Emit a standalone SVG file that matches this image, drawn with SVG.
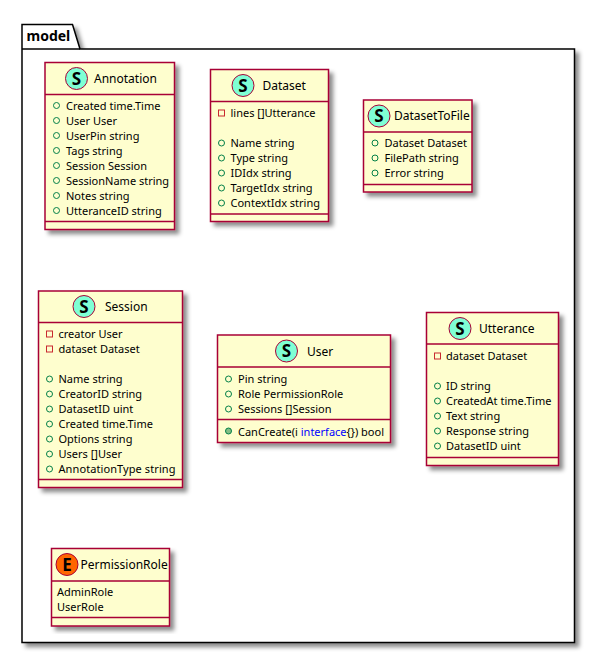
<svg xmlns="http://www.w3.org/2000/svg" width="595" height="653" viewBox="0 0 595 653">
<style>
text{font-family:"Noto Sans","DejaVu Sans",sans-serif;font-size:11px;fill:#000}
.t{font-size:12px}
.pkg{font-size:14px;font-weight:bold}
.b{fill:#FEFECE;stroke:#A80036;stroke-width:1.5}
.l{stroke:#A80036;stroke-width:1.5;fill:none}
.p{fill:#fff;stroke:#000;stroke-width:1.5}
.c{fill:#7FFFD4;stroke:#A80036;stroke-width:1}
.e{fill:#FF6600;stroke:#A80036;stroke-width:1}
.g{font-size:17px;font-weight:bold;text-anchor:middle}
.o{fill:none;stroke:#038048;stroke-width:1}
.m{fill:#84BE84;stroke:#038048;stroke-width:1}
.s{fill:none;stroke:#C82930;stroke-width:1}
</style>
<defs>
<filter id="sh" x="-10%" y="-10%" width="120%" height="120%"><feDropShadow dx="4" dy="4" stdDeviation="2" flood-color="#000" flood-opacity="0.45"/></filter>
</defs>
<g id="model">
<path class="p" filter="url(#sh)" d="M22 49V24.5H72.5L80 49H574.5V642.5H22Z"/>
<path class="l" style="stroke:#000" d="M22 49H80"/>
<text class="pkg" x="26.5" y="41">model</text>
</g>
<g id="connectors"></g>
<g id="Annotation">
<rect class="b" filter="url(#sh)" x="45" y="62.5" width="129.5" height="167"/>
<path class="l" d="M45 94.5H174.5M45 221.5H174.5"/>
<circle class="c" cx="76.5" cy="78.5" r="11"/><text class="g" x="76.5" y="84.5">S</text>
<text class="t" x="94" y="83">Annotation</text>
<circle class="o" cx="56.5" cy="105.5" r="3"/><text x="66" y="110">Created time.Time</text>
<circle class="o" cx="56.5" cy="120.5" r="3"/><text x="66" y="125">User User</text>
<circle class="o" cx="56.5" cy="135.5" r="3"/><text x="66" y="140">UserPin string</text>
<circle class="o" cx="56.5" cy="150.5" r="3"/><text x="66" y="155">Tags string</text>
<circle class="o" cx="56.5" cy="165.5" r="3"/><text x="66" y="170">Session Session</text>
<circle class="o" cx="56.5" cy="180.5" r="3"/><text x="66" y="185">SessionName string</text>
<circle class="o" cx="56.5" cy="195.5" r="3"/><text x="66" y="200">Notes string</text>
<circle class="o" cx="56.5" cy="210.5" r="3"/><text x="66" y="215">UtteranceID string</text>
</g>
<g id="Dataset">
<rect class="b" filter="url(#sh)" x="210.5" y="69.5" width="118" height="152"/>
<path class="l" d="M210.5 101.5H328.5M210.5 214H328.5"/>
<circle class="c" cx="243" cy="85.5" r="11"/><text class="g" x="243" y="91.5">S</text>
<text class="t" x="262.5" y="90">Dataset</text>
<rect class="s" x="218.5" y="110" width="6" height="6"/><text x="230.5" y="117">lines []Utterance</text>
<circle class="o" cx="221.5" cy="143" r="3"/><text x="230.5" y="147">Name string</text>
<circle class="o" cx="221.5" cy="158" r="3"/><text x="230.5" y="162">Type string</text>
<circle class="o" cx="221.5" cy="173" r="3"/><text x="230.5" y="177">IDIdx string</text>
<circle class="o" cx="221.5" cy="188" r="3"/><text x="230.5" y="192">TargetIdx string</text>
<circle class="o" cx="221.5" cy="203" r="3"/><text x="230.5" y="207">ContextIdx string</text>
</g>
<g id="DatasetToFile">
<rect class="b" filter="url(#sh)" x="363.5" y="100" width="108.5" height="92"/>
<path class="l" d="M363.5 132H472M363.5 184.5H472"/>
<circle class="c" cx="379" cy="116" r="11"/><text class="g" x="379" y="122">S</text>
<text class="t" x="394" y="120">DatasetToFile</text>
<circle class="o" cx="375" cy="143" r="3"/><text x="384.5" y="147">Dataset Dataset</text>
<circle class="o" cx="375" cy="158" r="3"/><text x="384.5" y="162">FilePath string</text>
<circle class="o" cx="375" cy="173" r="3"/><text x="384.5" y="177">Error string</text>
</g>
<g id="Session">
<rect class="b" filter="url(#sh)" x="38.5" y="291" width="144" height="196.5"/>
<path class="l" d="M38.5 322.5H182.5M38.5 479.5H182.5"/>
<circle class="c" cx="84" cy="306.5" r="11"/><text class="g" x="84" y="312.5">S</text>
<text class="t" x="105" y="311">Session</text>
<rect class="s" x="46.5" y="331" width="6" height="6"/><text x="58.5" y="338">creator User</text>
<rect class="s" x="46.5" y="346" width="6" height="6"/><text x="58.5" y="353">dataset Dataset</text>
<circle class="o" cx="49.5" cy="379" r="3"/><text x="58.5" y="383">Name string</text>
<circle class="o" cx="49.5" cy="394" r="3"/><text x="58.5" y="398">CreatorID string</text>
<circle class="o" cx="49.5" cy="409" r="3"/><text x="58.5" y="413">DatasetID uint</text>
<circle class="o" cx="49.5" cy="424" r="3"/><text x="58.5" y="428">Created time.Time</text>
<circle class="o" cx="49.5" cy="439" r="3"/><text x="58.5" y="443">Options string</text>
<circle class="o" cx="49.5" cy="454" r="3"/><text x="58.5" y="458">Users []User</text>
<circle class="o" cx="49.5" cy="469" r="3"/><text x="58.5" y="473" textLength="117">AnnotationType string</text>
</g>
<g id="User">
<rect class="b" filter="url(#sh)" x="217.5" y="335" width="173" height="107.5"/>
<path class="l" d="M217.5 367H390.5M217.5 419.5H390.5"/>
<circle class="c" cx="286.5" cy="351" r="11"/><text class="g" x="286.5" y="357">S</text>
<text class="t" x="307" y="356">User</text>
<circle class="o" cx="228.5" cy="379" r="3"/><text x="238" y="383">Pin string</text>
<circle class="o" cx="228.5" cy="394" r="3"/><text x="238" y="398">Role PermissionRole</text>
<circle class="o" cx="228.5" cy="409" r="3"/><text x="238" y="413">Sessions []Session</text>
<circle class="m" cx="228.5" cy="431" r="3"/><text x="238" y="436">CanCreate(i <tspan style="fill:#0000FF">interface</tspan>{}) bool</text>
</g>
<g id="Utterance">
<rect class="b" filter="url(#sh)" x="426.5" y="312.5" width="132" height="153"/>
<path class="l" d="M426.5 344H558.5M426.5 457.5H558.5"/>
<circle class="c" cx="460" cy="328.5" r="11"/><text class="g" x="460" y="334.5">S</text>
<text class="t" x="479" y="333">Utterance</text>
<rect class="s" x="434.5" y="353" width="6" height="6"/><text x="446" y="360">dataset Dataset</text>
<circle class="o" cx="437.5" cy="386" r="3"/><text x="446" y="390">ID string</text>
<circle class="o" cx="437.5" cy="401" r="3"/><text x="446" y="405">CreatedAt time.Time</text>
<circle class="o" cx="437.5" cy="416" r="3"/><text x="446" y="420">Text string</text>
<circle class="o" cx="437.5" cy="431" r="3"/><text x="446" y="435">Response string</text>
<circle class="o" cx="437.5" cy="446" r="3"/><text x="446" y="450">DatasetID uint</text>
</g>
<g id="PermissionRole">
<rect class="b" filter="url(#sh)" x="51.5" y="548.5" width="118" height="77.5"/>
<path class="l" d="M51.5 581H169.5M51.5 617.5H169.5"/>
<circle class="e" cx="67" cy="564.5" r="11"/><text class="g" x="67" y="570.5">E</text>
<text class="t" x="80.5" y="569">PermissionRole</text>
<text x="57" y="596">AdminRole</text>
<text x="57" y="611">UserRole</text>
</g>
</svg>
